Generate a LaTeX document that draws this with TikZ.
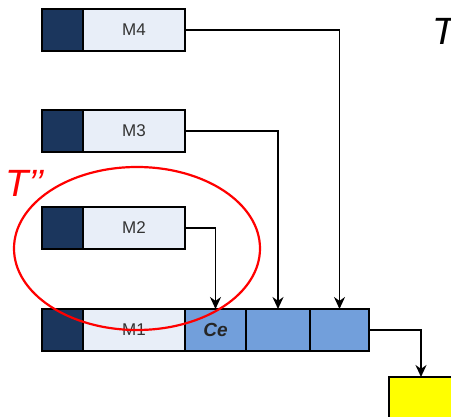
\documentclass[tikz,border=0pt]{standalone}
\usepackage{fontspec}
\setmainfont{Liberation Sans}
\usetikzlibrary{arrows.meta}
\definecolor{darkcell}{HTML}{1B365D}
\definecolor{lightcell}{HTML}{E8EEF8}
\definecolor{bluecell}{HTML}{729FDB}
\definecolor{outyellow}{HTML}{FFFF00}
\begin{document}
\begin{tikzpicture}[x=1pt,y=-1pt,
  cell/.style={draw=black,line width=2pt,inner sep=0pt,outer sep=0pt,anchor=north west},
  darkbox/.style={cell,fill=darkcell,minimum width=41pt,minimum height=42pt},
  lightbox/.style={cell,fill=lightcell,minimum width=102pt,minimum height=42pt,font=\fontsize{17}{19}\selectfont,text=black!80},
  bluebox/.style={cell,fill=bluecell,minimum height=42pt},
  conn/.style={draw=black,line width=1.8pt,-{Stealth[length=12pt,width=11pt]}},
  redtext/.style={text=red,font=\fontsize{38}{42}\selectfont\itshape}]
\useasboundingbox (0,0) rectangle (451,417);
% rows
\node[darkbox] (d4) at (42,9) {};
\node[lightbox] (m4) at (83,9) {M4};
\node[darkbox] (d3) at (42,110) {};
\node[lightbox] (m3) at (83,110) {M3};
\node[darkbox] (d2) at (42,207) {};
\node[lightbox] (m2) at (83,207) {M2};
\node[darkbox] (d1) at (42,309) {};
\node[lightbox] (m1) at (83,309) {M1};
\node[bluebox,minimum width=61pt,font=\fontsize{19}{21}\selectfont\bfseries\itshape,text=black!85] (ce) at (185,309) {Ce};
\node[bluebox,minimum width=64pt] (b4) at (246,309) {};
\node[bluebox,minimum width=59pt] (b5) at (310,309) {};
\node[cell,fill=outyellow,minimum width=64pt,minimum height=44pt] (y) at (389,377) {};
% connectors
\draw[conn] (m4.east) -| (b5.north);
\draw[conn] (m3.east) -| (b4.north);
\draw[conn] (m2.east) -| (ce.north);
\draw[conn] (b5.east) -| (y.north);
% highlight
\draw[red,line width=2.2pt] (137,248.5) ellipse [x radius=123, y radius=81.5];
\node[redtext,anchor=base west,inner sep=0pt] (tpp) at (5,197) {T’’};
\node[font=\fontsize{38}{42}\selectfont\itshape,anchor=base west,inner sep=0pt] (t) at (432,45) {T};
\end{tikzpicture}
\end{document}
